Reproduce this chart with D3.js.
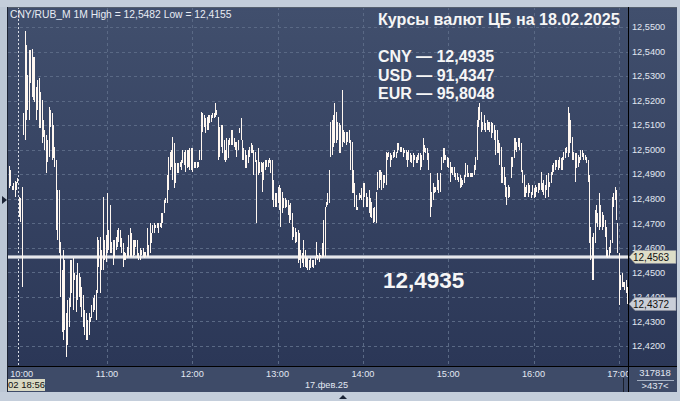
<!DOCTYPE html>
<html><head><meta charset="utf-8">
<script src="https://cdn.jsdelivr.net/npm/d3@7"></script>
<style>html,body{margin:0;padding:0;background:#c4cedb;overflow:hidden}svg{display:block}</style>
</head><body><svg id="c" width="680" height="401"></svg>
<script>
// ---------- DATA ----------
const chartDate = "2025-02-17";
const firstBarTime = "09:51";           // 1-minute bars
const highs = [
12.4934,12.4917,12.4852,12.4864,12.4872,12.4868,12.4885,12.4807,12.4803,12.4848,
12.5150,12.5482,12.5427,12.5304,12.5406,12.5406,12.5410,12.5378,12.5378,12.5256,
12.5284,12.5292,12.5235,12.5203,12.5121,12.5080,12.5060,12.5040,12.5174,12.5162,
12.5150,12.5101,12.5011,12.4958,12.4836,12.4836,12.4624,12.4510,12.4591,12.4551,
12.4335,12.4387,12.4396,12.4551,12.4551,12.4559,12.4498,12.4489,12.4538,12.4498,
12.4481,12.4441,12.4408,12.4347,12.4335,12.4306,12.4335,12.4318,12.4368,12.4396,
12.4408,12.4428,12.4644,12.4632,12.4644,12.4591,12.4807,12.4632,12.4652,12.4823,
12.4673,12.4775,12.4624,12.4632,12.4632,12.4644,12.4673,12.4681,12.4673,12.4640,
12.4620,12.4583,12.4579,12.4603,12.4652,12.4681,12.4661,12.4632,12.4632,12.4632,
12.4632,12.4579,12.4599,12.4591,12.4599,12.4583,12.4583,12.4681,12.4612,12.4701,
12.4661,12.4693,12.4701,12.4693,12.4701,12.4701,12.4701,12.4742,12.4742,12.4795,
12.4803,12.4897,12.4970,12.4991,12.4999,12.5052,12.5027,12.4946,12.4946,12.4946,
12.4950,12.4958,12.4999,12.4991,12.4999,12.4999,12.4999,12.5007,12.5007,12.5007,
12.4950,12.4950,12.4950,12.4950,12.4999,12.5154,12.5150,12.5141,12.5129,12.5133,
12.5141,12.5141,12.5141,12.5150,12.5150,12.5190,12.5162,12.5133,12.5092,12.5101,
12.5101,12.5040,12.4999,12.5048,12.5040,12.5048,12.5080,12.5080,12.5048,12.5031,
12.5031,12.5040,12.5088,12.5129,12.5040,12.5007,12.4999,12.4978,12.4999,12.5011,
12.5027,12.5019,12.4999,12.4991,12.4958,12.5007,12.4950,12.4950,12.4946,12.4950,
12.4958,12.4958,12.4958,12.4966,12.4958,12.4958,12.4877,12.4823,12.4823,12.4848,
12.4856,12.4844,12.4828,12.4803,12.4803,12.4795,12.4795,12.4775,12.4783,12.4742,
12.4685,12.4681,12.4665,12.4673,12.4661,12.4591,12.4579,12.4632,12.4591,12.4563,
12.4559,12.4551,12.4559,12.4551,12.4551,12.4563,12.4624,12.4571,12.4579,12.4571,
12.4620,12.4713,12.4767,12.4787,12.4823,12.4917,12.5113,12.5121,12.5141,12.5190,
12.5154,12.5113,12.5109,12.5101,12.5243,12.5080,12.5072,12.5072,12.5072,12.5080,
12.5040,12.5031,12.4917,12.4864,12.4815,12.4767,12.4823,12.4815,12.4844,12.4864,
12.4864,12.4823,12.4807,12.4836,12.4803,12.4787,12.4762,12.4767,12.4828,12.4909,
12.4917,12.4917,12.4909,12.4897,12.4897,12.4991,12.4986,12.4991,12.4986,12.4978,
12.4991,12.4999,12.4991,12.5027,12.5027,12.5011,12.5011,12.5007,12.4999,12.4999,
12.4991,12.4999,12.4986,12.4978,12.4986,12.4978,12.4970,12.4978,12.4986,12.4986,
12.4978,12.5048,12.5019,12.5007,12.5007,12.4986,12.4905,12.4828,12.4864,12.4848,
12.4848,12.4905,12.4877,12.4905,12.4970,12.5007,12.5007,12.4978,12.4970,12.4966,
12.4950,12.4930,12.4930,12.4930,12.4905,12.4905,12.4889,12.4897,12.4885,12.4877,
12.4897,12.4946,12.4938,12.4905,12.4905,12.4905,12.4905,12.4938,12.4970,12.5121,
12.5174,12.5190,12.5154,12.5113,12.5141,12.5109,12.5121,12.5113,12.5113,12.5113,
12.5109,12.5101,12.5080,12.5080,12.5040,12.5027,12.5011,12.4930,12.4930,12.4889,
12.4848,12.4856,12.4848,12.4970,12.4970,12.5048,12.5048,12.5031,12.5048,12.5048,
12.5027,12.4917,12.4897,12.4848,12.4856,12.4864,12.4856,12.4828,12.4856,12.4844,
12.4856,12.4848,12.4864,12.4864,12.4909,12.4864,12.4877,12.4856,12.4897,12.4905,
12.4868,12.4909,12.4938,12.4946,12.4958,12.4958,12.4958,12.4970,12.4966,12.4970,
12.4991,12.5007,12.5011,12.5174,12.5150,12.5121,12.5052,12.4991,12.4986,12.4986,
12.4978,12.4970,12.4999,12.4999,12.4986,12.4978,12.4970,12.4958,12.4897,12.4685,
12.4644,12.4661,12.4754,12.4775,12.4742,12.4823,12.4775,12.4746,12.4734,12.4713,
12.4685,12.4591,12.4603,12.4632,12.4807,12.4823,12.4848,12.4836,12.4701,12.4579,
12.4489,12.4498,12.4461,12.4461,12.4469,12.4441];
const lows = [
12.4844,12.4852,12.4836,12.4836,12.4807,12.4836,12.4864,12.4726,12.4705,12.4440,
12.5060,12.5040,12.5121,12.5162,12.5121,12.5272,12.5215,12.5203,12.5194,12.5121,
12.5162,12.5088,12.5088,12.5027,12.5052,12.4999,12.4905,12.4950,12.4970,12.5092,
12.4958,12.4966,12.4930,12.4673,12.4632,12.4579,12.4400,12.4257,12.4224,12.4265,
12.4155,12.4204,12.4278,12.4359,12.4416,12.4347,12.4469,12.4339,12.4387,12.4400,
12.4359,12.4318,12.4278,12.4245,12.4224,12.4224,12.4245,12.4298,12.4314,12.4339,
12.4347,12.4306,12.4416,12.4522,12.4416,12.4510,12.4510,12.4551,12.4542,12.4579,
12.4591,12.4579,12.4579,12.4530,12.4559,12.4591,12.4603,12.4624,12.4603,12.4579,
12.4522,12.4551,12.4551,12.4559,12.4563,12.4563,12.4563,12.4563,12.4571,12.4603,
12.4559,12.4551,12.4551,12.4571,12.4563,12.4559,12.4563,12.4563,12.4563,12.4579,
12.4620,12.4661,12.4661,12.4681,12.4681,12.4661,12.4685,12.4681,12.4701,12.4742,
12.4783,12.4783,12.4836,12.4917,12.4930,12.4877,12.4844,12.4864,12.4905,12.4905,
12.4930,12.4917,12.4946,12.4938,12.4909,12.4925,12.4930,12.4917,12.4917,12.4909,
12.4925,12.4925,12.4925,12.4930,12.4958,12.4958,12.5072,12.5092,12.5068,12.5080,
12.5080,12.5109,12.5113,12.5129,12.5129,12.5133,12.5141,12.4958,12.4970,12.5011,
12.4986,12.4958,12.4950,12.4958,12.4966,12.5019,12.5019,12.5019,12.5011,12.4999,
12.4970,12.4999,12.5068,12.5040,12.4958,12.4958,12.4925,12.4925,12.4946,12.4970,
12.4986,12.4986,12.4897,12.4950,12.4701,12.4897,12.4905,12.4909,12.4828,12.4877,
12.4917,12.4930,12.4930,12.4946,12.4905,12.4795,12.4767,12.4767,12.4767,12.4783,
12.4754,12.4685,12.4742,12.4762,12.4762,12.4767,12.4734,12.4701,12.4713,12.4632,
12.4644,12.4620,12.4624,12.4538,12.4551,12.4518,12.4538,12.4522,12.4522,12.4518,
12.4510,12.4510,12.4518,12.4522,12.4518,12.4530,12.4559,12.4551,12.4542,12.4559,
12.4559,12.4563,12.4563,12.4767,12.4775,12.4783,12.4970,12.4978,12.5011,12.5027,
12.5027,12.5040,12.4986,12.4986,12.5011,12.5031,12.5027,12.5019,12.5031,12.5027,
12.4917,12.4823,12.4823,12.4767,12.4754,12.4754,12.4795,12.4803,12.4795,12.4767,
12.4807,12.4767,12.4767,12.4742,12.4726,12.4722,12.4701,12.4705,12.4701,12.4836,
12.4844,12.4877,12.4836,12.4844,12.4864,12.4856,12.4958,12.4970,12.4930,12.4958,
12.4966,12.4970,12.4966,12.4986,12.4999,12.4991,12.4991,12.4970,12.4986,12.4958,
12.4930,12.4958,12.4950,12.4946,12.4930,12.4958,12.4946,12.4946,12.4958,12.4917,
12.4930,12.4958,12.4991,12.4986,12.4958,12.4917,12.4726,12.4767,12.4795,12.4823,
12.4828,12.4836,12.4823,12.4828,12.4917,12.4946,12.4958,12.4958,12.4930,12.4925,
12.4868,12.4905,12.4897,12.4889,12.4877,12.4877,12.4868,12.4844,12.4848,12.4856,
12.4864,12.4889,12.4889,12.4889,12.4889,12.4889,12.4889,12.4897,12.4917,12.4958,
12.5092,12.5121,12.5072,12.5080,12.5080,12.5072,12.5080,12.5080,12.5072,12.5048,
12.5068,12.5040,12.4978,12.4986,12.4986,12.4938,12.4864,12.4864,12.4856,12.4807,
12.4775,12.4803,12.4807,12.4885,12.4930,12.4966,12.4999,12.4991,12.5011,12.4999,
12.4909,12.4864,12.4807,12.4807,12.4823,12.4807,12.4823,12.4803,12.4815,12.4803,
12.4807,12.4828,12.4823,12.4836,12.4836,12.4828,12.4815,12.4803,12.4836,12.4807,
12.4848,12.4864,12.4897,12.4909,12.4917,12.4930,12.4917,12.4925,12.4917,12.4917,
12.4958,12.4966,12.4986,12.4970,12.4986,12.5027,12.4958,12.4958,12.4868,12.4925,
12.4930,12.4946,12.4958,12.4970,12.4958,12.4958,12.4946,12.4868,12.4620,12.4551,
12.4469,12.4469,12.4620,12.4701,12.4685,12.4673,12.4685,12.4673,12.4685,12.4644,
12.4563,12.4559,12.4563,12.4579,12.4620,12.4767,12.4795,12.4713,12.4579,12.4368,
12.4428,12.4441,12.4441,12.4428,12.4416,12.4370];
const yTickValues = [12.42,12.43,12.44,12.45,12.46,12.47,12.48,12.49,12.50,12.51,12.52,12.53,12.54,12.55];
const hourTicks = ["10:00","11:00","12:00","13:00","14:00","15:00","16:00","17:00"];
const sessionMarkTime = "09:57:30";
const refLevel = 12.4563;
const lastPrice = 12.4372;
const headerText = "CNY/RUB_M 1M High = 12,5482 Low = 12,4155";
const titleText = "Курсы валют ЦБ на 18.02.2025";
const rateNames = ["CNY","USD","EUR"];
const rateValues = ["12,4935","91,4347","95,8048"];
const bigValue = "12,4935";
const dateLabel = "17.фев.25";
const cursorLabel = "02 18:56";
const volumeLabel = "317818";
const barsLabel = ">437<";

// ---------- LAYOUT ----------
const L = 8, T = 7, R = 628, B = 366, AX = 677, AB = 392;
const FONT = "'Liberation Sans', Arial, sans-serif";
const svg = d3.select("#c");
const parse = d3.timeParse("%Y-%m-%d %H:%M");
const parseS = d3.timeParse("%Y-%m-%d %H:%M:%S");
const t0 = parse(chartDate + " " + firstBarTime);
const n = Math.min(highs.length, lows.length);
const bars = d3.range(n).map(i => ({t: d3.timeMinute.offset(t0, i), h: highs[i], l: lows[i]}));
const hours = hourTicks.map(s => parse(chartDate + " " + s));

const x = d3.scaleTime().domain([hours[0], hours[hours.length-1]]).range([21.7, 618.8]);
const y = d3.scaleLinear().domain([12.42, 12.55]).range([346, 27]);
const fmt = v => d3.format(".4f")(v).replace(".", ",");

const defs = svg.append("defs");
const g1 = defs.append("linearGradient").attr("id","bg").attr("x1",0).attr("x2",0).attr("y1",0).attr("y2",1);
g1.append("stop").attr("offset","0%").attr("stop-color","#414f6d");
g1.append("stop").attr("offset","100%").attr("stop-color","#2b3757");
defs.append("clipPath").attr("id","plotclip").append("rect").attr("x",L).attr("y",T).attr("width",R-L).attr("height",B-T);
defs.append("clipPath").attr("id","xclip").append("rect").attr("x",L).attr("y",B).attr("width",R-L).attr("height",AB-B);

// frame
svg.append("rect").attr("width",680).attr("height",401).attr("fill","#c4cedb");
svg.append("rect").attr("x",0).attr("y",T).attr("width",L).attr("height",AB-T).attr("fill","#bcc7d5");
svg.append("rect").attr("x",L).attr("y",T).attr("width",AX-L).attr("height",B-T).attr("fill","url(#bg)");
svg.append("rect").attr("x",L).attr("y",B).attr("width",AX-L).attr("height",AB-B).attr("fill","#3e4b68");

const plot = svg.append("g").attr("clip-path","url(#plotclip)");

// grid
plot.append("g").selectAll("line").data(yTickValues).join("line")
  .attr("x1",L).attr("x2",R).attr("y1",d=>Math.round(y(d))+0.5).attr("y2",d=>Math.round(y(d))+0.5)
  .attr("stroke","#5a6985").attr("stroke-width",1).attr("stroke-dasharray","3,3");
plot.append("g").selectAll("line").data(hours.slice(1)).join("line")
  .attr("x1",d=>Math.round(x(d))+0.5).attr("x2",d=>Math.round(x(d))+0.5).attr("y1",T).attr("y2",B)
  .attr("stroke","#5a6985").attr("stroke-width",1).attr("stroke-dasharray","3,3");
const sep = parseS(chartDate + " " + sessionMarkTime);
plot.append("line").attr("x1",Math.round(x(sep))+0.5).attr("x2",Math.round(x(sep))+0.5).attr("y1",T).attr("y2",B)
  .attr("stroke","#d8dce6").attr("stroke-dasharray","2,2");

// reference level line
plot.append("line").attr("x1",L).attr("x2",R).attr("y1",y(refLevel)).attr("y2",y(refLevel))
  .attr("stroke","#9aa1b2").attr("stroke-width",4);
plot.append("line").attr("x1",L).attr("x2",R).attr("y1",y(refLevel)).attr("y2",y(refLevel))
  .attr("stroke","#ffffff").attr("stroke-width",1.6);

// bars
plot.append("g").selectAll("rect").data(bars).join("rect")
  .attr("x",d=>Math.round(x(d.t))).attr("width",1)
  .attr("y",d=>y(d.h)).attr("height",d=>Math.max(1, y(d.l)-y(d.h)))
  .attr("fill","#fff7f0").attr("shape-rendering","crispEdges");

// borders
svg.append("line").attr("x1",L).attr("x2",AX).attr("y1",T+0.5).attr("y2",T+0.5).attr("stroke","#56606e");
svg.append("line").attr("x1",L-0.5).attr("x2",L-0.5).attr("y1",T).attr("y2",AB).attr("stroke","#1d2434");
svg.append("line").attr("x1",R+0.5).attr("x2",R+0.5).attr("y1",T).attr("y2",AB).attr("stroke","#000");
svg.append("line").attr("x1",L).attr("x2",AX).attr("y1",B+0.5).attr("y2",B+0.5).attr("stroke","#000");

// y axis labels (those hidden behind price tags are left out of the overlap)
const tagVals = [refLevel, lastPrice];
svg.append("g").selectAll("text").data(yTickValues).join("text")
  .attr("x",632).attr("y",d=>y(d)).attr("dy","0.35em")
  .attr("font-family",FONT).attr("font-size",9.2).attr("fill","#e2e8f2").text(fmt);

// price tags
function tag(v, fill) {
  const yy = Math.round(y(v));
  svg.append("path").attr("d",`M${R+1},${yy} L${R+7},${yy-6.5} L${AX-1},${yy-6.5} L${AX-1},${yy+6.5} L${R+7},${yy+6.5} Z`)
    .attr("fill",fill).attr("stroke","#8c8f98").attr("stroke-width",0.6);
  svg.append("text").attr("x",633).attr("y",yy).attr("dy","0.36em").attr("font-family",FONT)
    .attr("font-size",10).attr("fill","#111").text(fmt(v));
}
tag(refLevel, "#dedec8");
tag(lastPrice, "#c9ced8");

// x axis
const xg = svg.append("g").attr("clip-path","url(#xclip)");
xg.selectAll("text").data(hours).join("text")
  .attr("x",d=>x(d)).attr("y",374).attr("dy","0.35em").attr("text-anchor","middle")
  .attr("font-family",FONT).attr("font-size",9.2).attr("fill","#e2e8f2").text((d,i)=>hourTicks[i]);
svg.append("text").attr("x",305).attr("y",385).attr("dy","0.35em").attr("font-family",FONT)
  .attr("font-size",9.2).attr("fill","#e2e8f2").text(dateLabel);
svg.append("rect").attr("x",L).attr("y",379).attr("width",37).attr("height",12).attr("fill","#d8d8c2");
svg.append("text").attr("x",L).attr("y",385).attr("dy","0.35em").attr("font-family",FONT)
  .attr("font-size",9.5).attr("fill","#111").text(cursorLabel);
svg.append("line").attr("x1",623.5).attr("x2",623.5).attr("y1",378).attr("y2",AB).attr("stroke","#1a1f2c");
svg.append("text").attr("x",655).attr("y",373).attr("dy","0.35em").attr("text-anchor","middle").attr("font-family",FONT)
  .attr("font-size",9.5).attr("fill","#e2e8f2").text(volumeLabel);
svg.append("line").attr("x1",637).attr("x2",674).attr("y1",380.5).attr("y2",380.5).attr("stroke","#a4afc2");
svg.append("text").attr("x",655).attr("y",386).attr("dy","0.35em").attr("text-anchor","middle").attr("font-family",FONT)
  .attr("font-size",9.5).attr("fill","#e2e8f2").text(barsLabel);

// markers
svg.append("path").attr("d","M2,196 L7,200 L2,204 Z").attr("fill","#1b2436");
svg.append("path").attr("d","M339,399 L343,395 L347,399 Z").attr("fill","#1b2436");

// texts
svg.append("text").attr("x",10).attr("y",18).attr("font-family",FONT).attr("font-size",10.3)
  .attr("fill","#e8ecf4").text(headerText);
svg.append("text").attr("x",378).attr("y",25).attr("font-family",FONT).attr("font-size",16.1)
  .attr("font-weight","bold").attr("fill","#f6f6f6").text(titleText);
svg.append("g").selectAll("text").data(rateNames).join("text")
  .attr("x",378).attr("y",(d,i)=>62+i*18.7).attr("font-family",FONT).attr("font-size",16)
  .attr("font-weight","bold").attr("fill","#f6f6f6").text((d,i)=>d + " — " + rateValues[i]);
svg.append("text").attr("x",383).attr("y",288).attr("font-family",FONT).attr("font-size",22.5)
  .attr("font-weight","bold").attr("fill","#f6f6f6").text(bigValue);
</script></body></html>
